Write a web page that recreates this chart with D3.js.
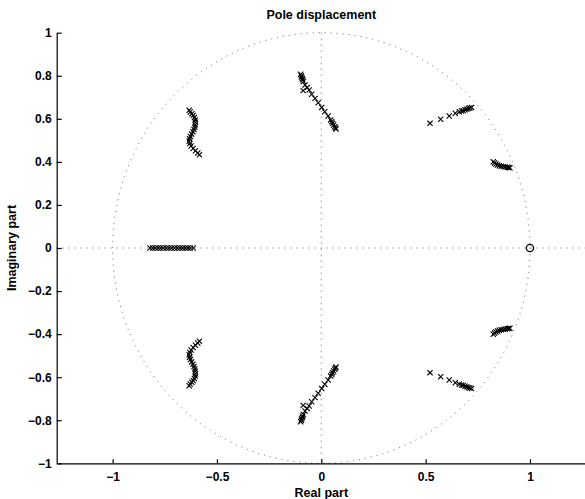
<!DOCTYPE html>
<html>
<head>
<meta charset="utf-8">
<script src="https://cdn.jsdelivr.net/npm/d3@7"></script>
<style>
  body { margin: 0; background: #fff; }
  text { font-family: "Liberation Sans", Arial, sans-serif; fill: #000; }
</style>
</head>
<body>
<div id="graph"></div>
<script>
// Pole trajectories (upper half-plane, conjugates are plotted too)
const polesA = [[-0.633,0.640],[-0.628,0.632],[-0.620,0.624],[-0.614,0.616],[-0.608,0.606],[-0.604,0.595],
  [-0.603,0.584],[-0.604,0.572],[-0.606,0.561],[-0.610,0.550],[-0.615,0.540],[-0.621,0.529],[-0.627,0.518],
  [-0.631,0.507],[-0.633,0.496],[-0.630,0.485],[-0.624,0.474],[-0.614,0.462],[-0.603,0.452],[-0.592,0.441],[-0.584,0.433]];
const polesB = [[-0.099,0.807],[-0.096,0.800],[-0.094,0.794],[-0.091,0.787],[-0.089,0.781],[-0.086,0.773],
  [-0.087,0.731],[-0.078,0.757],[-0.068,0.745],[-0.058,0.734],[-0.046,0.714],[-0.030,0.695],[-0.015,0.675],
  [0.002,0.653],[0.017,0.633],[0.033,0.613],[0.045,0.595],[0.050,0.586],[0.054,0.579],[0.059,0.571],
  [0.064,0.563],[0.068,0.557],[0.070,0.553]];
const polesC = [[0.521,0.579],[0.572,0.598],[0.613,0.613],[0.642,0.626],[0.661,0.633],[0.672,0.636],
  [0.680,0.639],[0.689,0.642],[0.697,0.645],[0.705,0.648],[0.712,0.650],[0.720,0.653]];
const polesD = [[0.824,0.401],[0.830,0.395],[0.837,0.390],[0.845,0.386],[0.853,0.382],[0.862,0.380],
  [0.872,0.378],[0.881,0.376],[0.891,0.375],[0.898,0.374],[0.904,0.373]];
// real poles
const polesReal = [[-0.821,0],[-0.808,0],[-0.795,0],[-0.782,0],[-0.769,0],[-0.756,0],[-0.743,0],[-0.730,0],
  [-0.717,0],[-0.704,0],[-0.691,0],[-0.678,0],[-0.665,0],[-0.652,0],[-0.640,0],[-0.628,0],[-0.614,0]];
const zeros = [[1, 0]];

const xTicks = [-1, -0.5, 0, 0.5, 1];
const yTicks = [-1, -0.8, -0.6, -0.4, -0.2, 0, 0.2, 0.4, 0.6, 0.8, 1];

// size of the page
const w = 585;
const h = 499;

const svg = d3.select("#graph")
              .append("svg")
              .attr("width", w)
              .attr("height", h);

const xScale = d3.scaleLinear().domain([-1.268, 1.268]).range([56.7, 585.9]);
const yScale = d3.scaleLinear().domain([-1, 1]).range([463.3, 32.7]);

// all poles + their complex conjugates
const upper = polesA.concat(polesB, polesC, polesD);
const poles = upper.concat(upper.map(p => [p[0], -p[1]]), polesReal);

// dotted unit circle and the two dotted axes
const dotted = svg.append("g")
                  .attr("fill", "none")
                  .attr("stroke", "#555")
                  .attr("stroke-width", 0.9)
                  .attr("stroke-dasharray", "1 5");
dotted.append("ellipse")
      .attr("cx", xScale(0))
      .attr("cy", yScale(0))
      .attr("rx", xScale(1) - xScale(0))
      .attr("ry", yScale(0) - yScale(1));
dotted.append("line")
      .attr("x1", xScale(0)).attr("x2", xScale(0))
      .attr("y1", yScale(1)).attr("y2", yScale(-1));
dotted.append("line")
      .attr("x1", xScale.range()[0]).attr("x2", xScale.range()[1])
      .attr("y1", yScale(0)).attr("y2", yScale(0));

// axes, ticks pointing inwards
const xAxis = d3.axisBottom(xScale)
                .tickValues(xTicks)
                .tickSizeInner(-4)
                .tickSizeOuter(0)
                .tickPadding(9)
                .tickFormat(d3.format("~g"));
const yAxis = d3.axisLeft(yScale)
                .tickValues(yTicks)
                .tickSizeInner(-5)
                .tickSizeOuter(0)
                .tickPadding(5)
                .tickFormat(d3.format("~g"));

svg.append("g")
   .attr("transform", "translate(0," + yScale(-1) + ")")
   .call(xAxis)
   .attr("id", "x-axis");
svg.append("g")
   .attr("transform", "translate(" + xScale.range()[0] + ",0)")
   .call(yAxis)
   .attr("id", "y-axis");

svg.selectAll(".domain, .tick line").attr("stroke", "#000").attr("stroke-width", 1.2);
svg.selectAll(".tick text")
   .style("font-size", "12px")
   .style("font-weight", "bold")
   .attr("fill", "#000");

// labels
svg.append("text")
   .text("Pole displacement")
   .attr("x", xScale(0))
   .attr("y", 19)
   .attr("text-anchor", "middle")
   .style("font-size", "12.5px")
   .style("font-weight", "bold");
svg.append("text")
   .text("Real part")
   .attr("x", xScale(0))
   .attr("y", 497)
   .attr("text-anchor", "middle")
   .style("font-size", "12.5px")
   .style("font-weight", "bold");
svg.append("text")
   .text("Imaginary part")
   .attr("transform", "translate(16," + yScale(0) + ") rotate(-90)")
   .attr("text-anchor", "middle")
   .style("font-size", "12.5px")
   .style("font-weight", "bold");

// poles as x markers
svg.append("g")
   .selectAll("path")
   .data(poles)
   .enter()
   .append("path")
   .attr("transform", d => "translate(" + xScale(d[0]) + "," + yScale(d[1]) + ")")
   .attr("d", "M-2.6,-2.6L2.6,2.6M-2.6,2.6L2.6,-2.6")
   .attr("stroke", "#000")
   .attr("stroke-width", 1.1)
   .attr("fill", "none");

// zeros as circles
svg.append("g")
   .selectAll("circle")
   .data(zeros)
   .enter()
   .append("circle")
   .attr("cx", d => xScale(d[0]))
   .attr("cy", d => yScale(d[1]))
   .attr("r", 3.6)
   .attr("fill", "none")
   .attr("stroke", "#000")
   .attr("stroke-width", 1.3);
</script>
</body>
</html>
